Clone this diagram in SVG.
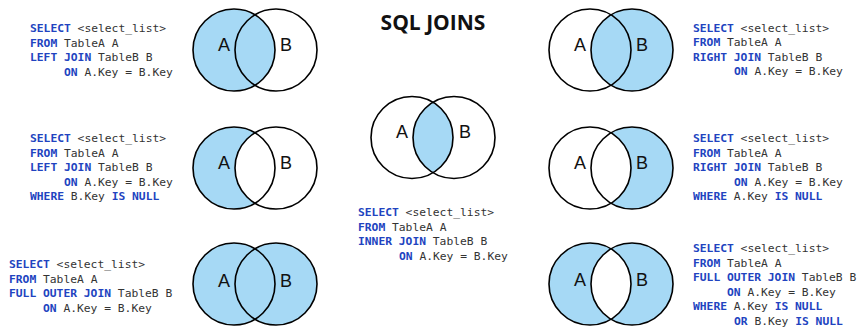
<svg xmlns="http://www.w3.org/2000/svg" width="860" height="327" viewBox="0 0 860 327">
<style>
.c{stroke:#000;stroke-width:1.6;fill:none}
.f{fill:#a6d9f5;stroke:none}
.w{fill:#fff;stroke:none}
.l{font-family:"Liberation Sans",Arial,sans-serif;font-size:18px;fill:#111;text-anchor:middle}
.q{font-family:"DejaVu Sans Mono","Liberation Mono",monospace;font-size:11.3px;fill:#333}
.k{font-weight:bold;fill:#2143c0}
.t{font-family:"Open Sans","Liberation Sans",sans-serif;font-size:21px;font-weight:bold;fill:#111;text-anchor:middle}
</style>
<rect width="860" height="327" fill="#fff"/>
<text class="t" x="433" y="30">SQL JOINS</text>

<g id="left-join">
<circle class="f" cx="234" cy="50" r="41"/>
<circle class="c" cx="234" cy="50" r="41"/>
<circle class="c" cx="276" cy="50" r="41"/>
<text class="l" x="224" y="51">A</text><text class="l" x="286" y="51">B</text>
<text class="q" x="30" y="32"><tspan class="k">SELECT</tspan> &lt;select_list&gt;</text>
<text class="q" x="30" y="46.5"><tspan class="k">FROM</tspan> TableA A</text>
<text class="q" x="30" y="61"><tspan class="k">LEFT JOIN</tspan> TableB B</text>
<text class="q" x="64" y="75.5"><tspan class="k">ON</tspan> A.Key = B.Key</text>
</g>

<g id="left-excl">
<circle class="f" cx="234" cy="168" r="41"/>
<circle class="w" cx="276" cy="168" r="41"/>
<circle class="c" cx="234" cy="168" r="41"/>
<circle class="c" cx="276" cy="168" r="41"/>
<text class="l" x="224" y="169">A</text><text class="l" x="286" y="169">B</text>
<text class="q" x="30" y="142"><tspan class="k">SELECT</tspan> &lt;select_list&gt;</text>
<text class="q" x="30" y="156.5"><tspan class="k">FROM</tspan> TableA A</text>
<text class="q" x="30" y="171"><tspan class="k">LEFT JOIN</tspan> TableB B</text>
<text class="q" x="64" y="185.5"><tspan class="k">ON</tspan> A.Key = B.Key</text>
<text class="q" x="30" y="200"><tspan class="k">WHERE</tspan> B.Key <tspan class="k">IS NULL</tspan></text>
</g>

<g id="full-join">
<circle class="f" cx="234" cy="284" r="41"/>
<circle class="f" cx="276" cy="284" r="41"/>
<circle class="c" cx="234" cy="284" r="41"/>
<circle class="c" cx="276" cy="284" r="41"/>
<text class="l" x="224" y="287">A</text><text class="l" x="286" y="287">B</text>
<text class="q" x="9" y="268"><tspan class="k">SELECT</tspan> &lt;select_list&gt;</text>
<text class="q" x="9" y="282.5"><tspan class="k">FROM</tspan> TableA A</text>
<text class="q" x="9" y="297"><tspan class="k">FULL OUTER JOIN</tspan> TableB B</text>
<text class="q" x="43" y="311.5"><tspan class="k">ON</tspan> A.Key = B.Key</text>
</g>

<g id="inner-join">
<path class="f" d="M433 102.3 A41 41 0 0 1 433 172.7 A41 41 0 0 1 433 102.3 Z"/>
<circle class="c" cx="412" cy="137.5" r="41"/>
<circle class="c" cx="454" cy="137.5" r="41"/>
<text class="l" x="402" y="138">A</text><text class="l" x="465" y="138">B</text>
<text class="q" x="358" y="216"><tspan class="k">SELECT</tspan> &lt;select_list&gt;</text>
<text class="q" x="358" y="230.5"><tspan class="k">FROM</tspan> TableA A</text>
<text class="q" x="358" y="245"><tspan class="k">INNER JOIN</tspan> TableB B</text>
<text class="q" x="399" y="259.5"><tspan class="k">ON</tspan> A.Key = B.Key</text>
</g>

<g id="right-join">
<circle class="f" cx="632" cy="50" r="41"/>
<circle class="c" cx="590" cy="50" r="41"/>
<circle class="c" cx="632" cy="50" r="41"/>
<text class="l" x="580" y="51">A</text><text class="l" x="642" y="51">B</text>
<text class="q" x="693" y="31.5"><tspan class="k">SELECT</tspan> &lt;select_list&gt;</text>
<text class="q" x="693" y="46"><tspan class="k">FROM</tspan> TableA A</text>
<text class="q" x="693" y="60.5"><tspan class="k">RIGHT JOIN</tspan> TableB B</text>
<text class="q" x="734" y="75"><tspan class="k">ON</tspan> A.Key = B.Key</text>
</g>

<g id="right-excl">
<circle class="f" cx="632" cy="168" r="41"/>
<circle class="w" cx="590" cy="168" r="41"/>
<circle class="c" cx="590" cy="168" r="41"/>
<circle class="c" cx="632" cy="168" r="41"/>
<text class="l" x="580" y="169">A</text><text class="l" x="642" y="169">B</text>
<text class="q" x="693" y="142"><tspan class="k">SELECT</tspan> &lt;select_list&gt;</text>
<text class="q" x="693" y="156.5"><tspan class="k">FROM</tspan> TableA A</text>
<text class="q" x="693" y="171"><tspan class="k">RIGHT JOIN</tspan> TableB B</text>
<text class="q" x="734" y="185.5"><tspan class="k">ON</tspan> A.Key = B.Key</text>
<text class="q" x="693" y="200"><tspan class="k">WHERE</tspan> A.Key <tspan class="k">IS NULL</tspan></text>
</g>

<g id="full-excl">
<circle class="f" cx="590" cy="284" r="41"/>
<circle class="f" cx="632" cy="284" r="41"/>
<path class="w" d="M611 248.8 A41 41 0 0 1 611 319.2 A41 41 0 0 1 611 248.8 Z"/>
<circle class="c" cx="590" cy="284" r="41"/>
<circle class="c" cx="632" cy="284" r="41"/>
<text class="l" x="580" y="286">A</text><text class="l" x="642" y="286">B</text>
<text class="q" x="693" y="252"><tspan class="k">SELECT</tspan> &lt;select_list&gt;</text>
<text class="q" x="693" y="266.5"><tspan class="k">FROM</tspan> TableA A</text>
<text class="q" x="693" y="281"><tspan class="k">FULL OUTER JOIN</tspan> TableB B</text>
<text class="q" x="727" y="295.5"><tspan class="k">ON</tspan> A.Key = B.Key</text>
<text class="q" x="693" y="310"><tspan class="k">WHERE</tspan> A.Key <tspan class="k">IS NULL</tspan></text>
<text class="q" x="734" y="324.5"><tspan class="k">OR</tspan> B.Key <tspan class="k">IS NULL</tspan></text>
</g>
</svg>
